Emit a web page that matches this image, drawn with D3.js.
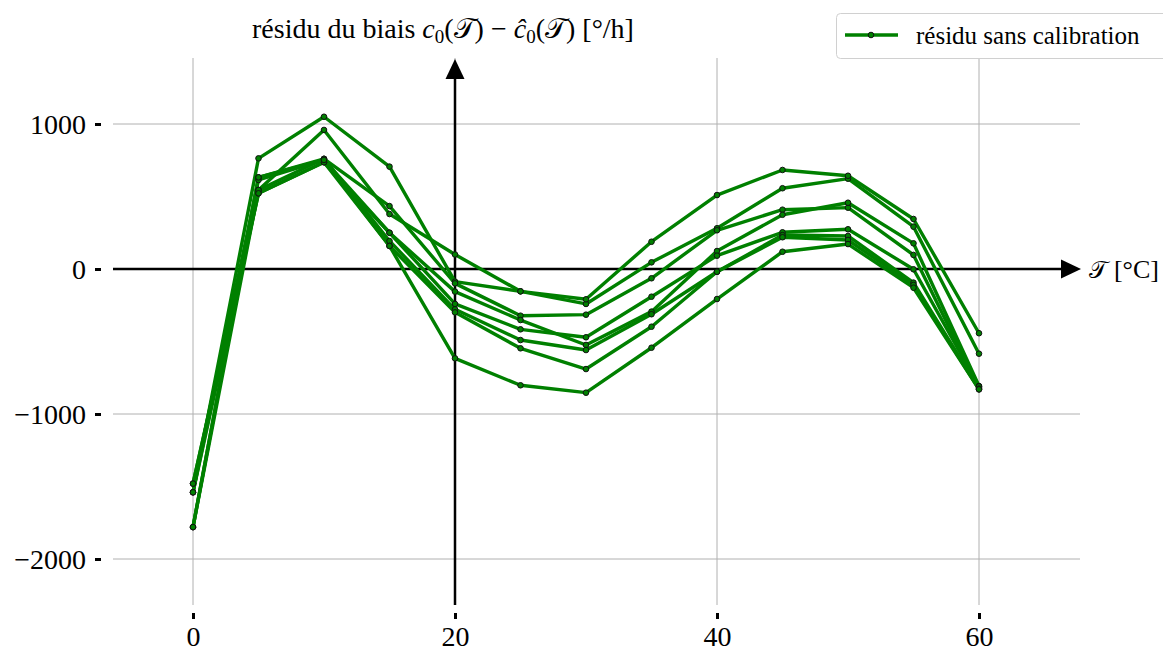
<!DOCTYPE html>
<html>
<head>
<meta charset="utf-8">
<script src="https://cdn.jsdelivr.net/npm/d3@7/dist/d3.min.js"></script>
<style>
  body { margin: 0; background: #fff; }
  svg { display: block; }
  text { font-family: "Liberation Serif", "DejaVu Serif", serif; fill: #000; }
</style>
</head>
<body>
<svg id="chart" width="1163" height="651"></svg>
<script>
// Temperature steps (°C)
const temperatures = [0, 5, 10, 15, 20, 25, 30, 35, 40, 45, 50, 55, 60];

// Residual bias per run (°/h), one array per sensor run
const run1 = [-1540, 763, 1050, 706, -87, -154, -241, 46, 281, 557, 623, 292, -584];
const run2 = [-1480, 545, 959, 379, 100, -154, -209, 188, 510, 683, 643, 345, -443];
const run3 = [-1780, 632, 760, 434, -99, -322, -315, -64, 267, 409, 423, 97, -819];
const run4 = [-1540, 614, 752, 250, -156, -352, -524, -294, 124, 374, 457, 177, -807];
const run5 = [-1480, 522, 736, 250, -241, -416, -471, -191, 92, 253, 274, -2, -810];
const run6 = [-1780, 545, 760, 193, -278, -490, -559, -312, -19, 234, 228, -94, -825];
const run7 = [-1540, 522, 736, 159, -299, -547, -690, -398, -19, 219, 200, -110, -830];
const run8 = [-1780, 632, 752, 159, -616, -802, -853, -543, -207, 119, 172, -129, -830];
const runs = [run1, run2, run3, run4, run5, run6, run7, run8];

// Tick values
const xTicks = [0, 20, 40, 60];
const yTicks = [1000, 0, -1000, -2000];

const legendLabel = "résidu sans calibration";
const lineColor = "#008000";

const svg = d3.select("#chart");

const x = d3.scaleLinear().domain([0, 60]).range([193, 979]);
const y = d3.scaleLinear().domain([-2000, 1000]).range([559, 124]);

const plotLeft = 113, plotRight = 1080, plotTop = 58, plotBottom = 605;

// Grid
const grid = svg.append("g").attr("stroke", "#b0b0b0").attr("stroke-width", 1);
grid.selectAll("line.v").data(xTicks).join("line")
  .attr("x1", d => x(d)).attr("x2", d => x(d))
  .attr("y1", plotTop).attr("y2", plotBottom);
grid.selectAll("line.h").data(yTicks).join("line")
  .attr("x1", plotLeft).attr("x2", plotRight)
  .attr("y1", d => y(d)).attr("y2", d => y(d));

// Y axis ticks and labels
const yAxis = d3.axisLeft(y).tickValues(yTicks).tickSize(6).tickPadding(9)
  .tickFormat(d3.format("d"));
const gy = svg.append("g").attr("transform", "translate(101,0)").call(yAxis);
gy.select(".domain").remove();
gy.selectAll(".tick line").attr("stroke", "#000").attr("stroke-width", 3);
gy.selectAll(".tick text").attr("font-family", "Liberation Serif, serif")
  .attr("font-size", 28).attr("dy", "0.34em");

// X axis ticks and labels
const xAxis = d3.axisBottom(x).tickValues(xTicks).tickSize(6).tickPadding(7)
  .tickFormat(d3.format("d"));
const gx = svg.append("g").attr("transform", "translate(0,613)").call(xAxis);
gx.select(".domain").remove();
gx.selectAll(".tick line").attr("stroke", "#000").attr("stroke-width", 3);
gx.selectAll(".tick text").attr("font-family", "Liberation Serif, serif")
  .attr("font-size", 28).attr("dy", "0.72em");

// Arrowed axes through the origin of the temperature frame
const axes = svg.append("g");
axes.append("line").attr("x1", plotLeft).attr("x2", 1064)
  .attr("y1", y(0)).attr("y2", y(0)).attr("stroke", "#000").attr("stroke-width", 2.5);
axes.append("path")
  .attr("d", `M1061,${y(0) - 9.5}L1081,${y(0)}L1061,${y(0) + 9.5}Z`).attr("fill", "#000");
axes.append("line").attr("x1", x(20)).attr("x2", x(20))
  .attr("y1", plotBottom).attr("y2", 76).attr("stroke", "#000").attr("stroke-width", 2.5);
axes.append("path")
  .attr("d", `M${x(20) - 9.5},79L${x(20)},59L${x(20) + 9.5},79Z`).attr("fill", "#000");

// Series
const line = d3.line().x((d, i) => x(temperatures[i])).y(d => y(d));
const series = svg.append("g");
series.selectAll("path").data(runs).join("path")
  .attr("d", line).attr("fill", "none")
  .attr("stroke", lineColor).attr("stroke-width", 3.4).attr("stroke-linejoin", "round");
runs.forEach(r => {
  series.append("g").selectAll("circle").data(r).join("circle")
    .attr("cx", (d, i) => x(temperatures[i])).attr("cy", d => y(d))
    .attr("r", 2.8).attr("fill", lineColor).attr("stroke", "#111").attr("stroke-width", 1);
});

// Title
const title = svg.append("text").attr("x", 443).attr("y", 38)
  .attr("text-anchor", "middle").attr("font-size", 28);
title.append("tspan").text("résidu du biais ");
title.append("tspan").attr("font-style", "italic").text("c");
title.append("tspan").attr("font-size", 19).attr("dy", 5).text("0");
title.append("tspan").attr("dy", -5).text("(𝒯) − ");
title.append("tspan").attr("font-style", "italic").text("ĉ");
title.append("tspan").attr("font-size", 19).attr("dy", 5).text("0");
title.append("tspan").attr("dy", -5).text("(𝒯) [°/h]");

// Horizontal axis label
const tLabel = svg.append("text").attr("x", 1159).attr("y", 278)
  .attr("text-anchor", "end").attr("font-size", 26);
tLabel.append("tspan").attr("font-size", 24).text("𝒯");
tLabel.append("tspan").text(" [°C]");

// Legend
const lg = svg.append("g");
lg.append("rect").attr("x", 836.5).attr("y", 13.5).attr("width", 340).attr("height", 45)
  .attr("rx", 4).attr("fill", "#fff").attr("stroke", "#d0d0d0").attr("stroke-width", 1);
lg.append("line").attr("x1", 845).attr("x2", 898).attr("y1", 35).attr("y2", 35)
  .attr("stroke", lineColor).attr("stroke-width", 3.4);
lg.append("circle").attr("cx", 871).attr("cy", 35).attr("r", 2.8)
  .attr("fill", lineColor).attr("stroke", "#111").attr("stroke-width", 1);
lg.append("text").attr("x", 916).attr("y", 44).attr("font-size", 25).text(legendLabel);
</script>
</body>
</html>
